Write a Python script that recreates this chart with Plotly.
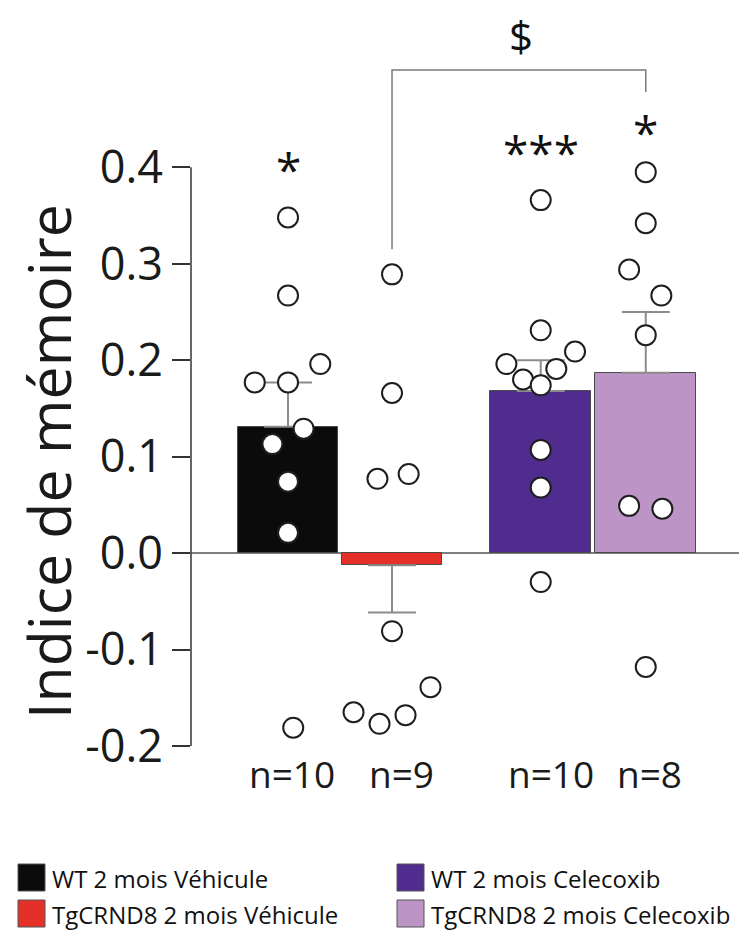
import plotly.graph_objects as go

groups = ["WT 2 mois Véhicule", "TgCRND8 2 mois Véhicule",
          "WT 2 mois Celecoxib", "TgCRND8 2 mois Celecoxib"]
means = [0.131, -0.0125, 0.168, 0.187]
sem_up = [0.046, 0.0, 0.032, 0.063]
sem_down = [0.0, 0.049, 0.0, 0.0]
n_labels = ["n=10", "n=9", "n=10", "n=8"]
stars = ["*", "", "***", "*"]

wt_veh = [0.348, 0.267, 0.177, 0.177, 0.196, 0.129, 0.113, 0.074, 0.021, -0.181]
tg_veh = [0.289, 0.166, 0.077, 0.082, -0.081, -0.165, -0.177, -0.168, -0.139]
wt_cel = [0.366, 0.231, 0.196, 0.209, 0.180, 0.191, 0.174, 0.107, 0.068, -0.030]
tg_cel = [0.395, 0.342, 0.294, 0.267, 0.226, 0.049, 0.046, -0.118]
points = [wt_veh, tg_veh, wt_cel, tg_cel]

# layout only: bar centres and horizontal spread of the dots
xpos = [0, 1, 2.43, 3.44]
jitter = [
    [0, 0, -0.32, 0, 0.31, 0.15, -0.15, 0, 0, 0.05],
    [0, 0, -0.14, 0.16, 0, -0.37, -0.12, 0.13, 0.37],
    [0, 0, -0.33, 0.33, -0.17, 0.15, 0, 0, 0, 0],
    [0, 0, -0.16, 0.15, 0, -0.16, 0.16, 0],
]
colors = ["#0b0b0b", "#e5302a", "#4f2c8e", "#bd94c6"]

FONT = "Open Sans"
OFF = 8  # page body margin
W, H = 747 - OFF, 934 - OFF
L, T = 191 - OFF, 13 - OFF
R = W - (741 - OFF)
B = H - (746 - OFF)
pw, ph = W - L - R, H - T - B


def px(x):
    # reference pixel -> paper x
    return (x - OFF - L) / pw


def py(y):
    # reference pixel -> paper y
    return (H - B - (y - OFF)) / ph


fig = go.Figure()

fig.add_trace(go.Bar(
    x=xpos, y=means, width=0.97,
    marker=dict(color=colors, line=dict(color="#4a4a4a", width=1)),
    error_y=dict(type="data", symmetric=False, array=sem_up, arrayminus=sem_down,
                 color="#8c8c8c", thickness=2, width=24),
    showlegend=False,
))

for i, vals in enumerate(points):
    fig.add_trace(go.Scatter(
        x=[xpos[i] + j for j in jitter[i]], y=vals, mode="markers",
        marker=dict(symbol="circle", size=20, color="white",
                    line=dict(color="#1e1e1e", width=2)),
        showlegend=False,
    ))

shapes = [
    # zero line and y axis line
    dict(type="line", xref="paper", yref="y", x0=0, x1=1, y0=0, y1=0,
         line=dict(color="#555555", width=1.5), layer="below"),
    dict(type="line", xref="paper", yref="y", x0=0, x1=0, y0=-0.2, y1=0.4,
         line=dict(color="#333333", width=1.5)),
    # bracket
    dict(type="path", xref="x", yref="y",
         path=f"M {xpos[1]},0.315 L {xpos[1]},0.501 L {xpos[3]},0.501 L {xpos[3]},0.478",
         line=dict(color="#7a7a7a", width=1.5)),
]

annotations = []
n_shift = [4, 9, 10, 4]
for i in range(4):
    annotations.append(dict(x=xpos[i], y=py(773), xref="x", yref="paper", text=n_labels[i],
                            showarrow=False, yanchor="middle", xshift=n_shift[i],
                            font=dict(family=FONT, size=37, color="#1a1a1a")))
star_y = [0.398, 0, 0.416, 0.437]
for i, s in enumerate(stars):
    if s:
        annotations.append(dict(x=xpos[i], y=star_y[i], xref="x", yref="y", text=s,
                                showarrow=False,
                                font=dict(family=FONT, size=46, color="#111111")))
annotations.append(dict(x=(xpos[1] + xpos[3]) / 2 + 0.02, y=0.537, xref="x", yref="y",
                        text="$", showarrow=False,
                        font=dict(family=FONT, size=42, color="#111111")))
annotations.append(dict(x=px(48), y=py(462), xref="paper", yref="paper",
                        xanchor="center", yanchor="middle",
                        text="Indice de mémoire", textangle=-90, showarrow=False,
                        font=dict(family=FONT, size=59, color="#1a1a1a")))

# legend, drawn by hand in two columns
leg_pos = [(18, 864), (18, 900), (397, 864), (397, 900)]
for i, (lx, ly) in enumerate(leg_pos):
    shapes.append(dict(type="rect", xref="paper", yref="paper",
                       x0=px(lx), x1=px(lx + 27), y0=py(ly + 27), y1=py(ly),
                       fillcolor=colors[i], line=dict(color="#555555", width=1)))
    annotations.append(dict(x=px(lx + 32), y=py(ly + 14), xref="paper", yref="paper",
                            text=groups[i], showarrow=False,
                            xanchor="left", yanchor="middle",
                            font=dict(family=FONT, size=24, color="#111111")))

fig.update_layout(
    width=W, height=H,
    margin=dict(l=L, r=R, t=T, b=B),
    plot_bgcolor="white", paper_bgcolor="white",
    xaxis=dict(range=[-0.933, 4.356], visible=False),
    yaxis=dict(range=[-0.2, 0.56], showgrid=False, zeroline=False, showline=False,
               tickvals=[-0.2, -0.1, 0.0, 0.1, 0.2, 0.3, 0.4],
               ticktext=["-0.2", "-0.1", "0.0", "0.1", "0.2", "0.3", "0.4"],
               ticks="outside", ticklen=18, tickwidth=1.5, tickcolor="#333333",
               tickfont=dict(family=FONT, size=45, color="#1a1a1a")),
    shapes=shapes, annotations=annotations,
    bargap=0,
)

fig.write_html("out.html")
